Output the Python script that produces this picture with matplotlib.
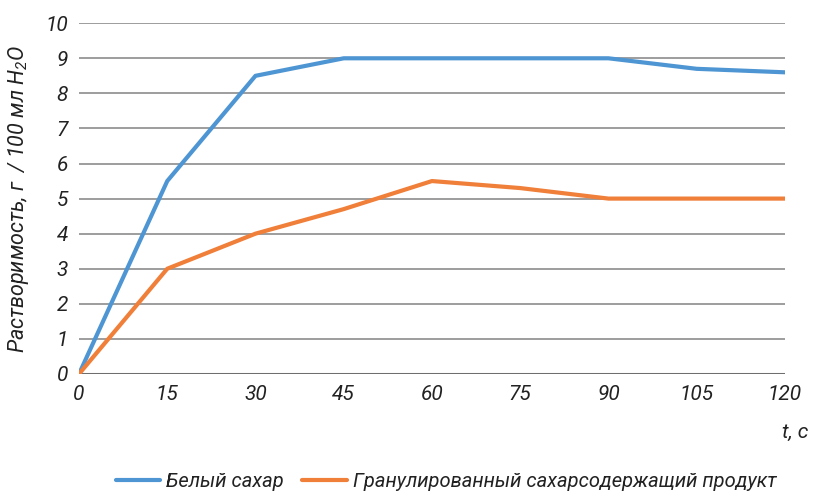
import matplotlib

matplotlib.use("Agg")
import matplotlib.pyplot as plt  # noqa: E402

t_sec = [0, 15, 30, 45, 60, 75, 90, 105, 120]
white_sugar = [0, 5.5, 8.5, 9.0, 9.0, 9.0, 9.0, 8.7, 8.6]
granulated = [0, 3.0, 4.0, 4.7, 5.5, 5.3, 5.0, 5.0, 5.0]
y_ticks = list(range(0, 11))

plt.rcParams["font.family"] = ["Roboto", "DejaVu Sans"]
plt.rcParams["font.style"] = "italic"
plt.rcParams["mathtext.fontset"] = "custom"
plt.rcParams["mathtext.rm"] = "Roboto:italic"
plt.rcParams["mathtext.it"] = "Roboto:italic"

fig = plt.figure(figsize=(8.17, 4.94), dpi=100)
ax = fig.add_axes([0.0967, 0.243, 0.864, 0.710])

ax.plot(t_sec, white_sugar, color="#4e95d3", linewidth=3, label="Белый сахар", solid_capstyle="round")
ax.plot(t_sec, granulated, color="#f07f3a", linewidth=3, label="Гранулированный сахарсодержащий продукт",
        solid_capstyle="round")

ax.set_xlim(0, 120)
ax.set_ylim(0, 10)
ax.set_xticks(t_sec)
ax.set_yticks(y_ticks)
ax.tick_params(length=0, labelsize=15, colors="#222222", pad=8)
ax.yaxis.grid(True, color="#8c8c8c", linewidth=1.2)
ax.set_axisbelow(True)
for s in ax.spines.values():
    s.set_visible(False)
ax.axhline(0, color="#6e6e6e", linewidth=2.2, zorder=1)

ax.set_ylabel("Растворимость, г  / 100 мл H$_2$O", fontsize=15.5, color="#222222", labelpad=10)
fig.text(0.99, 0.125, "t, c", ha="right", va="center", fontsize=15, color="#222222")

ax.legend(loc="center", bbox_to_anchor=(0.546, 0.026), bbox_transform=fig.transFigure, ncol=2,
          frameon=False, fontsize=14.5, handlelength=2.2, handletextpad=0.3, columnspacing=0.9,
          labelcolor="#222222")

fig.savefig("out.png", dpi=100)
